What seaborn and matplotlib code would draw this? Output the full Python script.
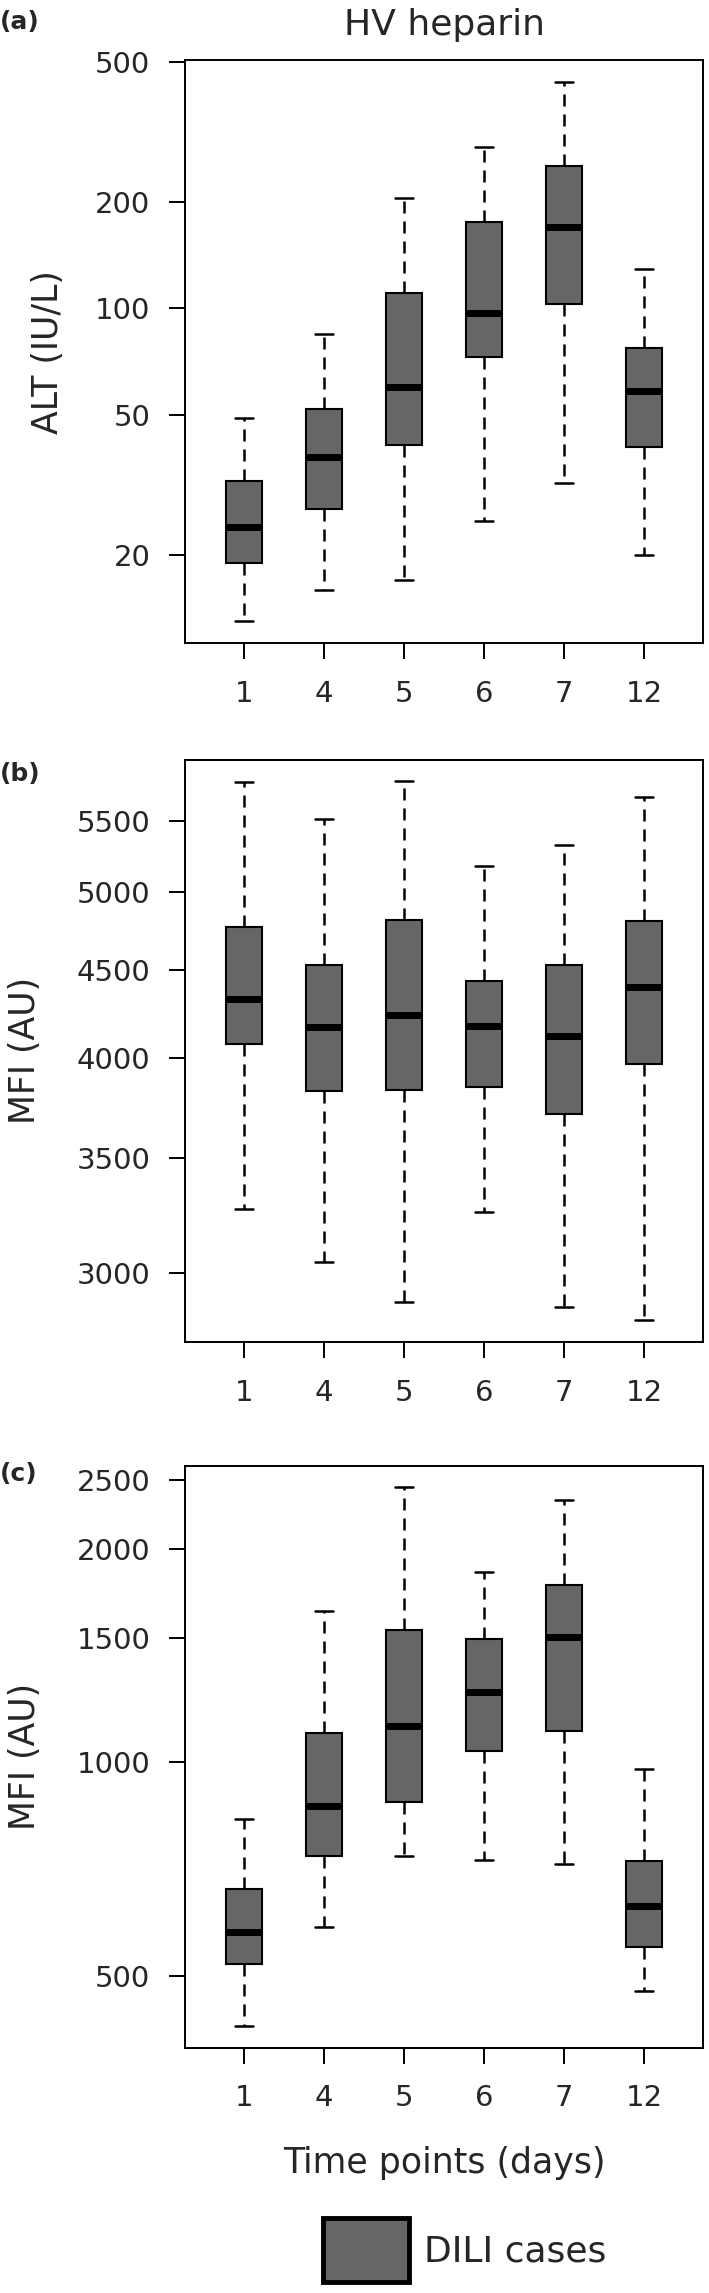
import numpy as np
import pandas as pd
import matplotlib
matplotlib.use('Agg')
import matplotlib.pyplot as plt
from matplotlib.patches import Patch
from matplotlib.ticker import FixedLocator, NullLocator
import seaborn as sns

days = ['1', '4', '5', '6', '7', '12']

# five-number summaries (whisker low, Q1, median, Q3, whisker high)
alt_low = [13.0, 16.0, 17.0, 25.0, 32.0, 20.0]
alt_q1 = [19.0, 27.0, 41.0, 73.0, 103.0, 40.6]
alt_med = [24.0, 38.0, 60.0, 97.1, 170.0, 58.5]
alt_q3 = [32.5, 52.0, 110.7, 176.0, 253.0, 77.1]
alt_high = [48.9, 84.9, 206.0, 286.0, 438.0, 129.0]

mfi_b_low = [3267, 3044, 2884, 3257, 2865, 2815]
mfi_b_q1 = [4077, 3828, 3832, 3849, 3714, 3970]
mfi_b_med = [4329, 4171, 4241, 4176, 4120, 4401]
mfi_b_q3 = [4766, 4532, 4813, 4437, 4535, 4810]
mfi_b_high = [5791, 5515, 5798, 5176, 5325, 5678]

mfi_c_low = [425, 586, 738, 729, 719, 476]
mfi_c_q1 = [520, 738, 880, 1038, 1107, 549]
mfi_c_med = [576, 867, 1126, 1256, 1502, 628]
mfi_c_q3 = [662, 1099, 1539, 1491, 1778, 727]
mfi_c_high = [831, 1633, 2445, 1856, 2348, 980]

yticks_a = [20, 50, 100, 200, 500]
yticks_b = [3000, 3500, 4000, 4500, 5000, 5500]
yticks_c = [500, 1000, 1500, 2000, 2500]


def summary_frame(low, q1, med, q3, high):
    rows = []
    for i, d in enumerate(days):
        for v in (low[i], q1[i], med[i], q3[i], high[i]):
            rows.append({'day': d, 'value': v})
    return pd.DataFrame(rows)


sns.set_style('ticks')
plt.rcParams['font.family'] = ['DejaVu Sans']

W, H = 709, 2293
fig = plt.figure(figsize=(W / 100, H / 100), dpi=100)

box_color = '#666666'
panels = [
    (summary_frame(alt_low, alt_q1, alt_med, alt_q3, alt_high), yticks_a,
     'ALT (IU/L)', '(a)', 60.3, 643.0, 48, 22),
    (summary_frame(mfi_b_low, mfi_b_q1, mfi_b_med, mfi_b_q3, mfi_b_high), yticks_b,
     'MFI (AU)', '(b)', 759.7, 1341.9, 25, 774),
    (summary_frame(mfi_c_low, mfi_c_q1, mfi_c_med, mfi_c_q3, mfi_c_high), yticks_c,
     'MFI (AU)', '(c)', 1465.5, 2047.5, 25, 1474),
]

left_px, right_px = 184.5, 703.5
axes = []
for df, yt, ylab, tag, top_px, bot_px, ylab_x, tag_y in panels:
    ax = fig.add_axes([left_px / W, 1 - bot_px / H,
                       (right_px - left_px) / W, (bot_px - top_px) / H])
    sns.boxplot(
        data=df, x='day', y='value', order=days, ax=ax,
        color=box_color, saturation=1, width=0.456,
        whis=(0, 100), log_scale=True, fliersize=0,
        linecolor='black', linewidth=1.5,
        boxprops={'edgecolor': 'black', 'linewidth': 1.5},
        medianprops={'color': 'black', 'linewidth': 5, 'solid_capstyle': 'butt'},
        whiskerprops={'color': 'black', 'linewidth': 1.8,
                      'linestyle': (0, (4.8, 3.2))},
        capprops={'color': 'black', 'linewidth': 1.8},
    )
    # R-style 4% padding on the log range
    lo, hi = np.log10(df['value'].min()), np.log10(df['value'].max())
    pad = 0.04 * (hi - lo)
    ax.set_ylim(10 ** (lo - pad), 10 ** (hi + pad))
    ax.set_xlim(-0.74, 5.74)
    ax.yaxis.set_major_locator(FixedLocator(yt))
    ax.yaxis.set_minor_locator(NullLocator())
    ax.set_yticklabels([str(v) for v in yt])
    ax.tick_params(axis='both', direction='out', length=11.5, width=1.4,
                   labelsize=21, color='black')
    ax.tick_params(axis='y', pad=13)
    ax.tick_params(axis='x', pad=15)
    for s in ax.spines.values():
        s.set_visible(True)
        s.set_linewidth(1.4)
        s.set_color('black')
    ax.set_xlabel('')
    ax.set_ylabel(ylab, fontsize=25, va='center')
    ax.yaxis.set_label_coords((ylab_x - left_px) / (right_px - left_px), 0.5)
    fig.text(0.0, 1 - tag_y / H, tag, fontsize=18, fontweight='bold',
             ha='left', va='center')
    axes.append(ax)

fig.text(444 / W, 1 - 25 / H, 'HV heparin', fontsize=26, ha='center', va='center')

ax3 = axes[2]
ax3.set_xlabel('Time points (days)', fontsize=25, va='center')
ax3.xaxis.set_label_coords(0.5, (2047.5 - 2163) / (2047.5 - 1465.5))

handle = Patch(facecolor=box_color, edgecolor='black', linewidth=3.5)
fig.legend(
    handles=[handle], labels=['DILI cases'],
    loc='center left', bbox_to_anchor=(323 / W, 1 - 2250 / H),
    frameon=False, fontsize=26, borderpad=0, borderaxespad=0,
    handlelength=86 / 36.1, handleheight=85 / 36.1, handletextpad=0.42,
)

fig.savefig('out.png', dpi=100)
